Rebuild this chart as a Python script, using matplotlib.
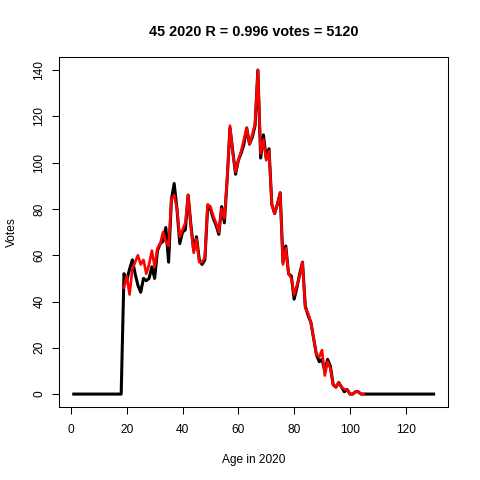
import numpy as np
import matplotlib
matplotlib.use("Agg")
import matplotlib.pyplot as plt

plt.rcParams['font.family'] = ['Liberation Sans', 'DejaVu Sans']

# ages 1..130, votes per age (black = observed, red = fitted, ages 19..105)
ages = np.arange(1, 131)
black_19_104 = [52, 49, 54, 58, 52, 47, 44, 50, 49, 50, 55, 50, 62, 65, 66, 72, 57, 84,
                91, 80, 65, 70, 71, 86, 73, 62, 68, 58, 56, 58, 81, 80, 76, 73, 69,
                81, 74, 93, 115, 105, 95, 101, 104, 108, 115, 108, 111, 116, 140, 102,
                112, 102, 106, 82, 78, 82, 87, 57, 64, 52, 51, 41, 46, 52, 57, 38, 34,
                31, 24, 17, 14, 15, 10, 15, 12, 4, 3, 5, 3, 1, 2, 0, 0, 1, 1, 0]
red_ages = np.arange(19, 106)
red_vals = [46, 51, 43, 54, 57, 60, 56, 58, 52, 56, 62, 55, 63, 65, 70, 66, 64, 84,
            86, 80, 68, 71, 74, 86, 72, 61, 67, 57, 57, 59, 82, 81, 77, 74, 70,
            80, 76, 93, 116, 104, 96, 101, 105, 110, 115, 108, 112, 117, 140, 104,
            110, 101, 105, 82, 78, 82, 87, 56, 63, 52, 50, 43, 47, 51, 57, 37, 35,
            31, 24, 17, 16, 19, 8, 14, 11, 4, 3, 5, 3, 2, 2, 0, 0, 1, 1, 0, 0]

black_vals = np.zeros(len(ages))
black_vals[18:18 + len(black_19_104)] = black_19_104

x_ticks = [0, 20, 40, 60, 80, 100, 120]
y_ticks = [0, 20, 40, 60, 80, 100, 120, 140]
title = "45 2020 R = 0.996 votes = 5120"

fig = plt.figure(figsize=(4.8, 4.8), dpi=100)
ax = fig.add_axes([0.1237, 0.152, 0.8096, 0.729])

ax.plot(ages, black_vals, color='black', lw=2.2, solid_joinstyle='round')
ax.plot(red_ages, red_vals, color='red', lw=1.9, solid_joinstyle='round')

ax.set_xlim(1 - 0.04 * 129, 130 + 0.04 * 129)
ax.set_ylim(-0.04 * 140, 140 * 1.04)
ax.set_xticks(x_ticks)
ax.set_yticks(y_ticks)
ax.tick_params(axis='both', direction='out', length=5, width=0.75, labelsize=8.6, pad=5)
ax.tick_params(axis='x', pad=7)
for lab in ax.get_yticklabels():
    lab.set_rotation(90)
    lab.set_va('center')
for s in ax.spines.values():
    s.set_linewidth(0.75)

ax.set_xlabel("Age in 2020", fontsize=8.6, labelpad=13)
ax.set_ylabel("Votes", fontsize=8.6, labelpad=11)
ax.set_title(title, fontsize=10.4, fontweight='bold', pad=15)

fig.savefig("out.png", dpi=100)
